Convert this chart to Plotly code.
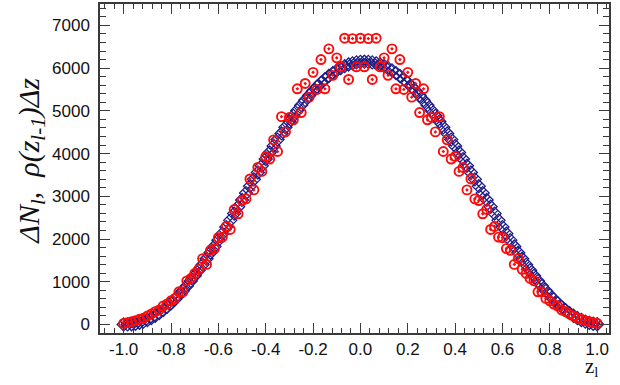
import plotly.graph_objects as go

# bin index k = -60..60, z_l = k/60
bin_index = list(range(-60, 61))
z_l = [k / 60 for k in bin_index]

# rho(z_{l-1}) * dz  (blue, smooth)
rho_dz = [
    0, 0, 4, 17, 38, 67, 105, 150, 204, 266,
    335, 412, 496, 587, 685, 790, 901, 1017, 1140, 1268,
    1400, 1538, 1679, 1824, 1973, 2125, 2279, 2436, 2594, 2754,
    2914, 3075, 3236, 3396, 3556, 3714, 3871, 4025, 4177, 4326,
    4471, 4613, 4750, 4882, 5010, 5133, 5249, 5360, 5465, 5563,
    5654, 5738, 5815, 5884, 5946, 5999, 6045, 6083, 6112, 6133,
    6146,
    6150, 6146, 6133, 6112, 6083, 6045, 5999, 5946, 5884, 5815,
    5738, 5654, 5563, 5465, 5360, 5249, 5133, 5010, 4882, 4750,
    4613, 4471, 4326, 4177, 4025, 3871, 3714, 3556, 3396, 3236,
    3075, 2914, 2754, 2594, 2436, 2279, 2125, 1973, 1824, 1679,
    1538, 1400, 1268, 1140, 1017, 901, 790, 685, 587, 496,
    412, 335, 266, 204, 150, 105, 67, 38, 17, 4,
]

# Delta N_l (red, counted)
delta_n = [
    25, 42, 65, 89, 121, 144, 198, 245, 298, 338,
    431, 477, 554, 610, 764, 764, 1021, 1076, 1192, 1290,
    1541, 1405, 1735, 1775, 2031, 2045, 2294, 2224, 2690, 2590,
    2900, 2939, 3405, 3149, 3675, 3582, 3931, 3871, 4320, 4048,
    4864, 4507, 4845, 4790, 5515, 4960, 5640, 5320, 5900, 5500,
    6200, 5515, 6450, 5830, 6240, 6030, 6700, 5734, 6690, 6030,
    6700,
    6030, 6690, 5734, 6700, 6030, 6240, 5830, 6450, 5515, 6200,
    5500, 5900, 5320, 5640, 4960, 5515, 4790, 4845, 4507, 4864,
    4048, 4320, 3871, 3931, 3582, 3675, 3149, 3405, 2939, 2900,
    2590, 2690, 2224, 2294, 2045, 2031, 1775, 1735, 1405, 1541,
    1290, 1192, 1076, 1021, 764, 764, 610, 554, 477, 431,
    338, 298, 245, 198, 144, 121, 89, 65, 42, 25,
]

x_tickvals = [-1.0, -0.8, -0.6, -0.4, -0.2, 0.0, 0.2, 0.4, 0.6, 0.8, 1.0]
x_ticktext = ["-1.0", "-0.8", "-0.6", "-0.4", "-0.2", "0.0", "0.2", "0.4", "0.6", "0.8", "1.0"]
y_tickvals = [0, 1000, 2000, 3000, 4000, 5000, 6000, 7000]

AXIS = "#3a3a3a"
TICK_FONT = dict(family="Liberation Sans, Arial", size=17, color="#111111")

fig = go.Figure()
fig.add_scatter(
    x=z_l, y=rho_dz, mode="markers", name="rho dz",
    marker=dict(symbol="diamond-x-open", size=10, color="#1e1e88", line=dict(width=1.3)),
)
fig.add_scatter(
    x=z_l, y=delta_n, mode="markers", name="dN",
    marker=dict(symbol="circle-open-dot", size=9, color="#ff0a0a", line=dict(width=1.9)),
)

fig.update_layout(
    width=620, height=385,
    margin=dict(l=100, r=11, t=2, b=52),
    plot_bgcolor="white", paper_bgcolor="white",
    showlegend=False,
)
fig.update_xaxes(
    range=[-1.1, 1.05], tickvals=x_tickvals, ticktext=x_ticktext,
    ticks="inside", ticklen=10, tickwidth=1.3, tickcolor=AXIS,
    minor=dict(dtick=0.04, tick0=0, ticks="inside", ticklen=5, tickwidth=1, tickcolor=AXIS),
    showline=True, linecolor=AXIS, linewidth=1.5, mirror="ticks",
    showgrid=False, zeroline=False, tickfont=TICK_FONT,
)
fig.update_yaxes(
    range=[-200, 7500], tickvals=y_tickvals,
    ticks="inside", ticklen=10, tickwidth=1.3, tickcolor=AXIS,
    minor=dict(dtick=200, tick0=0, ticks="inside", ticklen=6, tickwidth=1, tickcolor=AXIS),
    showline=True, linecolor=AXIS, linewidth=1.5, mirror="ticks",
    showgrid=False, zeroline=False, tickfont=TICK_FONT, ticklabelstandoff=5,
)

fig.add_annotation(
    text="<i>ΔN<sub>l</sub>,\u2002ρ(z<sub>l-1</sub>)Δz</i>",
    xref="paper", yref="paper", x=-0.136, y=0.523,
    xanchor="center", yanchor="middle", textangle=-90, showarrow=False,
    font=dict(family="Liberation Serif, Times New Roman", size=30, color="#111111"),
)
fig.add_annotation(
    text="z<sub>l</sub>",
    xref="paper", yref="paper", x=0.965, y=-0.103,
    xanchor="center", yanchor="middle", showarrow=False,
    font=dict(family="Liberation Serif, Times New Roman", size=21, color="#111111"),
)

fig.write_html(
    "out.html",
    config={"displayModeBar": False},
    post_script="document.body.style.margin='0';",
)
